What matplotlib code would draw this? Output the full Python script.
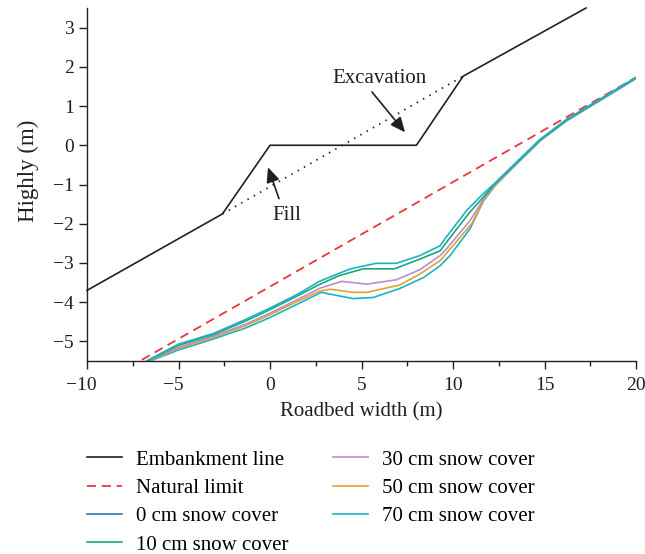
import matplotlib
matplotlib.use("Agg")
import matplotlib.pyplot as plt
import matplotlib.transforms as mtransforms
from matplotlib.lines import Line2D

plt.rcParams["font.family"] = ["Liberation Serif", "DejaVu Serif"]

# Embankment (design) line vertices
embank_x = [-10, -2.6, 0, 8, 10.55, 17.27]
embank_y = [-3.7, -1.75, 0, 0, 1.76, 3.5]

# Original ground line between the fill and excavation toes
ground_x = [-2.6, 10.55]
ground_y = [-1.75, 1.76]

# Natural limit
natural_x = [-7.0, 20]
natural_y = [-5.47, 1.73]

# Snow-cover boundary curves
snow0_x = [-6.75, -5, -3.1, -1.28, 0, 1.5, 2.7, 3.8, 4.4, 5.8, 6.9, 8.2, 9.3, 9.6, 10.75, 11.6, 12.3, 13, 14.75, 16.2, 18, 20]
snow0_y = [-5.5, -5.07, -4.80, -4.43, -4.15, -3.8, -3.47, -3.26, -3.15, -3.01, -3.01, -2.81, -2.56, -2.36, -1.66, -1.26, -0.96, -0.64, 0.15, 0.66, 1.17, 1.73]

snow10_x = [-6.7, -5, -3.1, -1.28, 0, 1.5, 2.7, 3.8, 5.1, 6.8, 8.2, 9.3, 9.65, 10.84, 11.66, 12.3, 13, 14.75, 16.2, 18, 20]
snow10_y = [-5.5, -5.1, -4.83, -4.47, -4.19, -3.84, -3.55, -3.32, -3.15, -3.15, -2.9, -2.69, -2.47, -1.75, -1.32, -0.98, -0.66, 0.13, 0.64, 1.15, 1.72]

snow30_x = [-6.65, -5, -3.1, -1.28, 0, 1.5, 2.7, 3.9, 5.3, 6.9, 8.2, 9.3, 9.65, 10.93, 11.66, 12.3, 13, 14.75, 16.2, 18, 20]
snow30_y = [-5.5, -5.15, -4.87, -4.55, -4.28, -3.93, -3.65, -3.47, -3.54, -3.43, -3.17, -2.81, -2.64, -1.92, -1.38, -1.0, -0.68, 0.12, 0.63, 1.14, 1.71]

snow50_x = [-6.6, -5, -3.1, -1.28, 0, 1.5, 2.7, 3.3, 4.55, 5.3, 7.1, 8.2, 9.3, 9.65, 11.02, 11.66, 12.3, 13, 14.75, 16.2, 18, 20]
snow50_y = [-5.5, -5.18, -4.9, -4.59, -4.32, -3.98, -3.72, -3.67, -3.75, -3.75, -3.56, -3.28, -2.94, -2.75, -2.0, -1.41, -1.02, -0.69, 0.12, 0.63, 1.14, 1.71]

snow70_x = [-6.55, -5, -3.1, -1.28, 0, 1.5, 2.8, 4.55, 5.65, 7.1, 8.4, 9.3, 9.84, 10.93, 11.66, 12.3, 13, 14.75, 16.2, 18, 20]
snow70_y = [-5.5, -5.22, -4.94, -4.65, -4.39, -4.05, -3.75, -3.91, -3.88, -3.65, -3.37, -3.07, -2.81, -2.13, -1.42, -1.03, -0.7, 0.11, 0.62, 1.13, 1.7]

x_ticks = [-10, -5, 0, 5, 10, 15, 20]
y_ticks = [-5, -4, -3, -2, -1, 0, 1, 2, 3]

legend_labels = ["Embankment line", "Natural limit", "0 cm snow cover", "10 cm snow cover",
                 "30 cm snow cover", "50 cm snow cover", "70 cm snow cover"]

C_BLACK = "#231f20"
C_RED = "#ee3440"
C_BLUE = "#2a78bd"
C_GREEN = "#1fa77b"
C_PURPLE = "#b98fcb"
C_ORANGE = "#e3a130"
C_CYAN = "#19b3c4"

FS = 15


def fmt(v):
    return ("\u2212%d" % -v) if v < 0 else "%d" % v


fig = plt.figure(figsize=(6.45, 5.54), dpi=100)
ax = fig.add_axes([87 / 645, 1 - 361 / 554, (636 - 87) / 645, (361 - 8) / 554])

lw = 1.2
ax.plot(embank_x, embank_y, color=C_BLACK, lw=lw, clip_on=False)
ax.plot(ground_x, ground_y, color=C_BLACK, lw=1.3, linestyle=(0, (0.8, 3.2)))
ax.plot(natural_x, natural_y, color=C_RED, lw=1.3, linestyle=(0, (5, 3.2)))

ax.plot(snow70_x, snow70_y, color=C_CYAN, lw=lw)
ax.plot(snow50_x, snow50_y, color=C_ORANGE, lw=lw)
ax.plot(snow30_x, snow30_y, color=C_PURPLE, lw=lw)
ax.plot(snow10_x, snow10_y, color=C_GREEN, lw=lw)
ax.plot(snow0_x, snow0_y, color=C_CYAN, lw=lw)

ax.set_xlim(-10, 20)
ax.set_ylim(-5.5, 3.5)
ax.set_xticks(x_ticks)
ax.set_xticks([-7.5, -2.5, 2.5, 7.5, 12.5, 17.5], minor=True)
ax.set_yticks(y_ticks)
ax.set_xticklabels([fmt(v) for v in x_ticks])
ax.set_yticklabels([fmt(v) for v in y_ticks])

for s in ("top", "right"):
    ax.spines[s].set_visible(False)
for s in ("left", "bottom"):
    ax.spines[s].set_linewidth(1.0)
    ax.spines[s].set_color(C_BLACK)
ax.tick_params(axis="both", which="major", direction="out", length=5.5, width=1.0,
               labelsize=14, colors=C_BLACK)
ax.tick_params(axis="x", which="major", pad=6)
ax.tick_params(axis="y", which="major", pad=4)
ax.tick_params(axis="x", which="minor", direction="out", length=3.5, width=1.0, colors=C_BLACK)

# keep the digits of negative x labels centred on their ticks, minus sign hanging left
for v, lab in zip(x_ticks, ax.get_xticklabels()):
    if v < 0:
        lab.set_transform(lab.get_transform() +
                          mtransforms.ScaledTranslation(-0.055, 0, fig.dpi_scale_trans))

ax.set_xlabel("Roadbed width (m)", fontsize=FS, color=C_BLACK, labelpad=6)
ax.set_ylabel("Highly (m)", fontsize=16.5, color=C_BLACK)
ax.yaxis.set_label_coords(-0.087, (361 - 171) / 353)

arrow = dict(arrowstyle="-|>,head_length=0.9,head_width=0.4", color=C_BLACK, lw=1.2,
             shrinkA=0, shrinkB=0)
ax.annotate("", xy=(7.38, 0.33), xytext=(5.57, 1.36), arrowprops=arrow)
ax.text(6.0, 1.71, "Excavation", fontsize=FS, ha="center", va="center", color=C_BLACK)
ax.annotate("", xy=(-0.11, -0.56), xytext=(0.49, -1.36), arrowprops=arrow)
ax.text(0.93, -1.8, "Fill", fontsize=FS, ha="center", va="center", color=C_BLACK)

handles = [
    Line2D([], [], color=C_BLACK, lw=lw),
    Line2D([], [], color=C_RED, lw=1.3, linestyle=(0, (5, 3.2))),
    Line2D([], [], color=C_BLUE, lw=lw),
    Line2D([], [], color=C_GREEN, lw=lw),
    Line2D([], [], color=C_PURPLE, lw=lw),
    Line2D([], [], color=C_ORANGE, lw=lw),
    Line2D([], [], color=C_CYAN, lw=lw),
]
fig.legend(handles, legend_labels, ncol=2, frameon=False, fontsize=FS,
           loc="upper left", bbox_to_anchor=(87 / 645, 1 - 450 / 554),
           handlelength=1.68, handletextpad=0.66, columnspacing=2.15,
           labelspacing=0.42, borderpad=0, borderaxespad=0)

fig.savefig("out.png", dpi=100)
